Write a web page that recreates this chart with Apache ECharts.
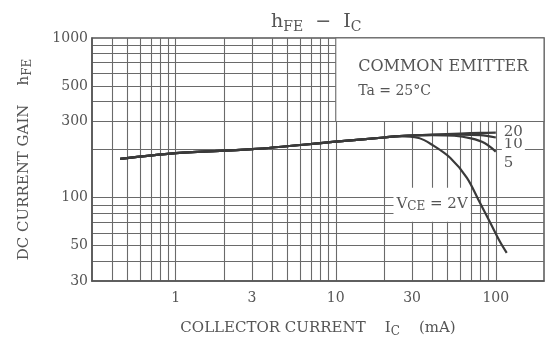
<!DOCTYPE html>
<html>
<head>
<meta charset="utf-8">
<script src="https://cdn.jsdelivr.net/npm/echarts@6/dist/echarts.min.js"></script>
<style>
html, body { margin: 0; padding: 0; background: #fff; }
#chart { width: 552px; height: 345px; }
</style>
</head>
<body>
<div id="chart"></div>
<script>
// tick labels and grid lines (log axes)
var xLabels = [1, 3, 10, 30, 100];
var yLabels = [30, 50, 100, 300, 500, 1000];
var xGrid = [0.4, 0.5, 0.6, 0.7, 0.8, 0.9, 1, 2, 3, 4, 5, 6, 7, 8, 9, 10, 20, 30, 40, 50, 60, 70, 80, 90, 100];
var yGrid = [40, 50, 60, 70, 80, 90, 100, 200, 300, 400, 500, 600, 700, 800, 900];

// hFE vs Ic for each VCE
var ic2 = [0.45, 1, 3, 10, 20, 25, 33, 40, 52, 66, 79, 92, 106, 117];
var hfe2 = [175, 190, 201, 224, 238, 243, 236, 214, 177, 133, 94, 70, 53, 45];
var ic5 = [0.45, 1, 3, 10, 20, 25, 40, 55, 70, 85, 100];
var hfe5 = [175, 190, 201, 224, 238, 243, 246, 244, 235, 220, 194];
var ic10 = [0.45, 1, 3, 10, 20, 25, 40, 60, 80, 100];
var hfe10 = [175, 190, 201, 224, 238, 243, 247, 248, 246, 238];
var ic20 = [0.45, 1, 3, 10, 20, 25, 40, 60, 80, 100];
var hfe20 = [175, 190, 201, 224, 238, 243, 248, 252, 254, 255];

var ink = '#3a3a3a';
var txt = '#555';
var serif = 'DejaVu Serif';

function pairs(xs, ys) {
    return xs.map(function (x, i) { return [x, ys[i]]; });
}

var chart = echarts.init(document.getElementById('chart'));

function curve(name, xs, ys, extra) {
    var s = {
        name: name,
        type: 'line',
        data: pairs(xs, ys),
        smooth: 0.35,
        showSymbol: false,
        symbol: 'none',
        lineStyle: { color: ink, width: 2.2 },
        z: 5
    };
    for (var k in extra) s[k] = extra[k];
    return s;
}

function endLab(text, dy) {
    return {
        show: true,
        formatter: text,
        distance: 6,
        offset: [0, dy],
        color: txt,
        fontFamily: serif,
        fontSize: 15,
        lineHeight: 13,
        backgroundColor: '#fff',
        padding: [0, 2, 0, 2]
    };
}

// plain numbers on the log axes (no thousands separator)
function plain(v) { return String(v); }

var option = {
    animation: false,
    backgroundColor: '#fff',
    title: {
        text: '{a|h}{s|FE}{a|  −  I}{s|C}',
        left: 266,
        top: 5,
        textStyle: {
            rich: {
                a: { fontFamily: serif, fontWeight: 'normal', fontSize: 19, color: txt, lineHeight: 24, verticalAlign: 'middle' },
                s: { fontFamily: serif, fontWeight: 'normal', fontSize: 14, color: txt, lineHeight: 24, verticalAlign: 'bottom' }
            }
        }
    },
    grid: {
        left: 92, right: 8, top: 38, bottom: 64,
        show: true, borderColor: '#555', borderWidth: 1.5
    },
    xAxis: {
        type: 'log',
        min: 0.3,
        max: 200,
        name: '{a|COLLECTOR CURRENT}{a|    I}{s|C}{a|    (mA)}',
        nameLocation: 'middle',
        nameGap: 37,
        nameTextStyle: {
            rich: {
                a: { fontFamily: serif, fontSize: 15, color: txt, lineHeight: 20, verticalAlign: 'middle' },
                s: { fontFamily: serif, fontSize: 12, color: txt, lineHeight: 20, verticalAlign: 'bottom' }
            }
        },
        axisLine: { show: true, lineStyle: { color: '#555', width: 1.5 } },
        axisTick: { show: false, customValues: xGrid },
        axisLabel: {
            customValues: xLabels,
            formatter: plain,
            margin: 10,
            color: txt,
            fontFamily: serif,
            fontSize: 14
        },
        splitLine: { show: true, lineStyle: { color: '#6a6a6a', width: 1.1 } }
    },
    yAxis: {
        type: 'log',
        min: 30,
        max: 1000,
        name: '{a|DC CURRENT GAIN    h}{s|FE}',
        nameLocation: 'middle',
        nameRotate: 90,
        nameGap: 58,
        nameTextStyle: {
            rich: {
                a: { fontFamily: serif, fontSize: 15, color: txt, lineHeight: 20, verticalAlign: 'middle' },
                s: { fontFamily: serif, fontSize: 12, color: txt, lineHeight: 20, verticalAlign: 'bottom' }
            }
        },
        axisLine: { show: true, lineStyle: { color: '#555', width: 1.5 } },
        axisTick: { show: false, customValues: yGrid },
        axisLabel: {
            customValues: yLabels,
            formatter: plain,
            margin: 4,
            color: txt,
            fontFamily: serif,
            fontSize: 14
        },
        splitLine: { show: true, lineStyle: { color: '#6a6a6a', width: 1.1 } }
    },
    series: [
        curve('2V', ic2, hfe2, {
            markArea: {
                silent: true,
                itemStyle: { color: '#fff', opacity: 1, borderColor: '#6a6a6a', borderWidth: 1.1 },
                label: {
                    show: true,
                    position: 'insideTopLeft',
                    formatter: '{a|COMMON EMITTER}\n{b|Ta = 25°C}',
                    rich: {
                        a: { fontFamily: serif, fontSize: 16, color: txt, lineHeight: 32, padding: [16, 0, 0, 18] },
                        b: { fontFamily: serif, fontSize: 14, color: txt, lineHeight: 32, padding: [2, 0, 0, 18] }
                    }
                },
                data: [[{ coord: [10, 300] }, { coord: [200, 1000] }]]
            },
            markPoint: {
                silent: true,
                symbol: 'rect',
                symbolSize: 0,
                label: {
                    show: true,
                    position: 'inside',
                    formatter: '{a|V}{s|CE}{a| = 2V}',
                    backgroundColor: '#fff',
                    padding: [7, 3, 9, 3],
                    rich: {
                        a: { fontFamily: serif, fontSize: 15, color: txt, lineHeight: 18, verticalAlign: 'middle' },
                        s: { fontFamily: serif, fontSize: 12, color: txt, lineHeight: 18, verticalAlign: 'bottom' }
                    }
                },
                data: [{ coord: [40, 90] }]
            }
        }),
        curve('5V', ic5, hfe5, { endLabel: endLab('5', 11) }),
        curve('10V', ic10, hfe10, { endLabel: endLab('10', 7) }),
        curve('20V', ic20, hfe20, { endLabel: endLab('20', -1) })
    ]
};

chart.setOption(option);
</script>
</body>
</html>
